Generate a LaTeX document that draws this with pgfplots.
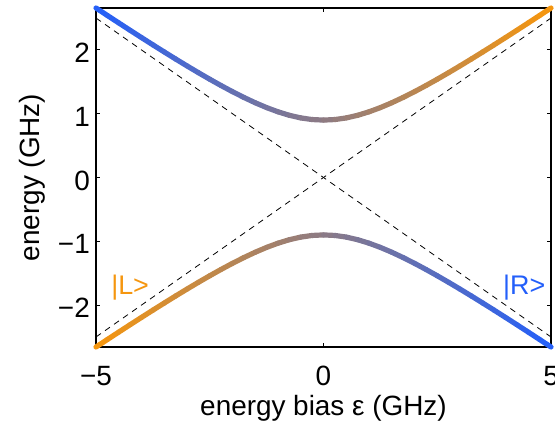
\documentclass[border=0pt]{standalone}
\usepackage{pgfplots}
\pgfplotsset{compat=1.18}
\usepackage{pgfplotstable}
\usepackage{fontspec}
\setmainfont{Liberation Sans}
\definecolor{qblue}{RGB}{35,95,250}
\definecolor{qorange}{RGB}{245,150,15}
\pgfplotstableread{
x y m
-5 2.6571 -5
-4.75 2.5398 -4.75
-4.5 2.4233 -4.5
-4.25 2.3077 -4.25
-4 2.1932 -4
-3.75 2.0798 -3.75
-3.5 1.9679 -3.5
-3.25 1.8576 -3.25
-3 1.7493 -3
-2.75 1.6434 -2.75
-2.5 1.5403 -2.5
-2.25 1.4407 -2.25
-2 1.3454 -2
-1.75 1.2552 -1.75
-1.5 1.1715 -1.5
-1.25 1.0957 -1.25
-1 1.0296 -1
-0.75 0.975 -0.75
-0.5 0.9341 -0.5
-0.25 0.9086 -0.25
0 0.9 0
0.25 0.9086 0.25
0.5 0.9341 0.5
0.75 0.975 0.75
1 1.0296 1
1.25 1.0957 1.25
1.5 1.1715 1.5
1.75 1.2552 1.75
2 1.3454 2
2.25 1.4407 2.25
2.5 1.5403 2.5
2.75 1.6434 2.75
3 1.7493 3
3.25 1.8576 3.25
3.5 1.9679 3.5
3.75 2.0798 3.75
4 2.1932 4
4.25 2.3077 4.25
4.5 2.4233 4.5
4.75 2.5398 4.75
5 2.6571 5
}\tabupper
\pgfplotstableread{
x y m
-5 -2.6571 5
-4.75 -2.5398 4.75
-4.5 -2.4233 4.5
-4.25 -2.3077 4.25
-4 -2.1932 4
-3.75 -2.0798 3.75
-3.5 -1.9679 3.5
-3.25 -1.8576 3.25
-3 -1.7493 3
-2.75 -1.6434 2.75
-2.5 -1.5403 2.5
-2.25 -1.4407 2.25
-2 -1.3454 2
-1.75 -1.2552 1.75
-1.5 -1.1715 1.5
-1.25 -1.0957 1.25
-1 -1.0296 1
-0.75 -0.975 0.75
-0.5 -0.9341 0.5
-0.25 -0.9086 0.25
0 -0.9 0
0.25 -0.9086 -0.25
0.5 -0.9341 -0.5
0.75 -0.975 -0.75
1 -1.0296 -1
1.25 -1.0957 -1.25
1.5 -1.1715 -1.5
1.75 -1.2552 -1.75
2 -1.3454 -2
2.25 -1.4407 -2.25
2.5 -1.5403 -2.5
2.75 -1.6434 -2.75
3 -1.7493 -3
3.25 -1.8576 -3.25
3.5 -1.9679 -3.5
3.75 -2.0798 -3.75
4 -2.1932 -4
4.25 -2.3077 -4.25
4.5 -2.4233 -4.5
4.75 -2.5398 -4.75
5 -2.6571 -5
}\tablower
\begin{document}
\begin{tikzpicture}
\begin{axis}[
  scale only axis,
  width=455bp, height=339bp,
  xmin=-5, xmax=5, ymin=-2.6571, ymax=2.6571,
  xtick={-5,0,5}, xticklabels={−5,0,5},
  ytick={-2,-1,0,1,2}, yticklabels={−2,−1,0,1,2},
  tick align=inside, major tick length=4.5bp,
  tick style={black, line width=0.9pt},
  axis line style={black, line width=1.3pt},
  ticklabel style={font=\fontsize{28}{32}\selectfont},
  xticklabel style={anchor=base, inner sep=0pt, yshift=-38bp},
  yticklabel style={anchor=east, inner sep=0pt, xshift=-6bp, yshift=-3bp},
  label style={font=\fontsize{28}{32}\selectfont},
  xlabel={energy bias ε (GHz)},
  ylabel={energy (GHz)},
  xlabel style={at={(axis description cs:0.5,-0.2006)}, anchor=base, inner sep=0pt},
  ylabel style={at={(axis description cs:-0.139,0.5)}, anchor=center, inner sep=0pt},
  clip=false,
  colormap={qo}{rgb255(0cm)=(35,95,250); rgb255(1cm)=(245,150,15)},
  point meta min=-5, point meta max=5,
]
\addplot[black, line width=0.8pt, dash pattern=on 6bp off 5bp] coordinates {(-5,-2.5) (5,2.5)};
\addplot[black, line width=0.8pt, dash pattern=on 6bp off 5bp] coordinates {(-5,2.5) (5,-2.5)};
\addplot[mesh, line width=5.2bp, line cap=round, point meta=explicit] table[x=x, y=y, meta=m] {\tabupper};
\addplot[mesh, line width=5.2bp, line cap=round, point meta=explicit] table[x=x, y=y, meta=m] {\tablower};
\node[text=qorange, font=\fontsize{27}{32}\selectfont] at (axis cs:-4.25,-1.73) {|L>};
\node[text=qblue, font=\fontsize{27}{32}\selectfont] at (axis cs:4.41,-1.73) {|R>};
\end{axis}
\pgfresetboundingbox
\path ([shift={(-96bp,-79bp)}]current axis.south west) rectangle ([shift={(4bp,8bp)}]current axis.north east);
\end{tikzpicture}
\end{document}
